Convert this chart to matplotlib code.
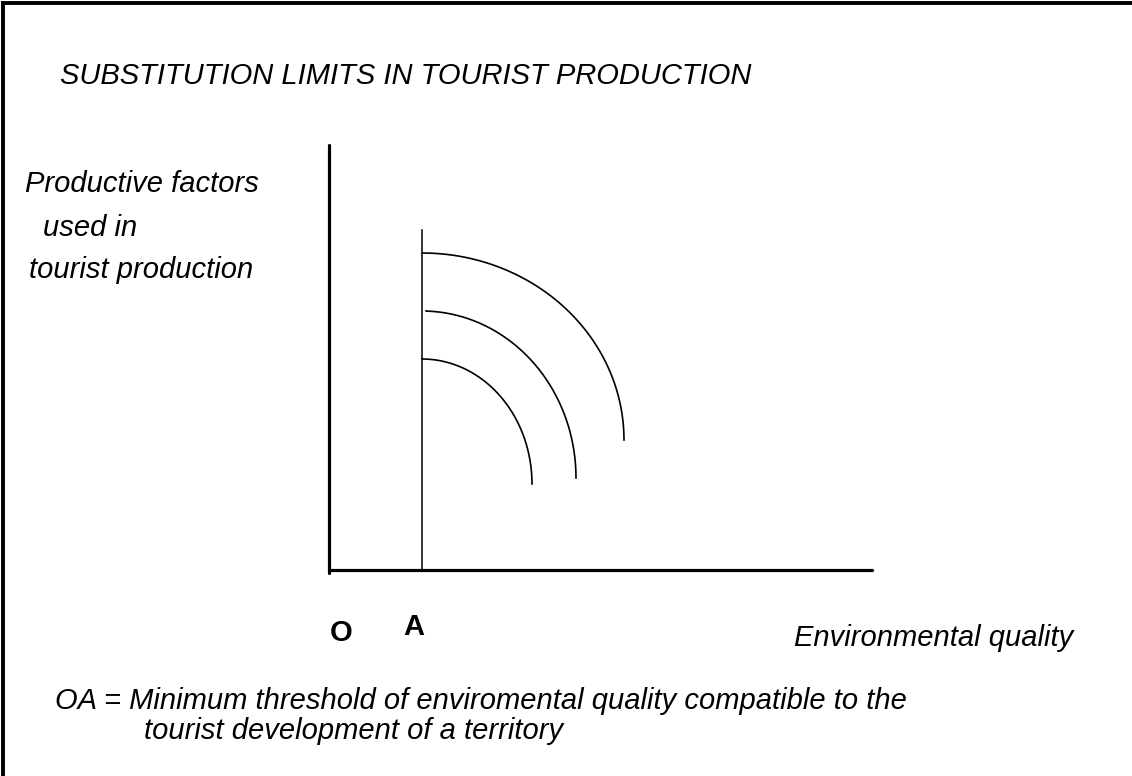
import numpy as np
import matplotlib
matplotlib.use("Agg")
import matplotlib.pyplot as plt
from matplotlib.lines import Line2D

plt.rcParams['font.family'] = ['Liberation Sans', 'DejaVu Sans']

# ---- data (diagram units, origin at O) ----
threshold_A = 93                 # OA: minimum environmental quality
curve_start = [93, 97, 93]       # x where each iso-production curve begins
curve_top = [211, 259, 317]      # factor level at the threshold
curve_right = [203, 247, 295]    # max environmental quality reached
curve_end = [86, 92, 130]        # lower end of each curve
x_axis_end = 543
y_axis_end = 425
a_line_top = 340

W, H = 1132, 776
fig = plt.figure(figsize=(W / 100, H / 100), dpi=100)
ax = fig.add_axes([0, 0, 1, 1])
ax.set_xlim(-329, W - 329)
ax.set_ylim(570 - H, 570)
ax.axis('off')

# axes
ax.plot([0, 0], [-3, y_axis_end], color='black', lw=2.3, solid_capstyle='round')
ax.plot([0, x_axis_end], [0, 0], color='black', lw=2.3, solid_capstyle='round')
# threshold line at A
ax.plot([threshold_A, threshold_A], [0, a_line_top], color='black', lw=1.1)

# iso-production curves (quarter ellipses)
t = np.linspace(0, np.pi / 2, 200)
for xs, top, right, end in zip(curve_start, curve_top, curve_right, curve_end):
    a = right - threshold_A
    b = top - end
    x = threshold_A + a * np.sin(t)
    y = end + b * np.cos(t)
    x = np.maximum(x, xs)
    ax.plot(x, y, color='black', lw=1.2)

# frame (left and top)
def px(x, y):
    return x / W, 1 - y / H

fig.add_artist(Line2D([3 / W, 3 / W], [0, 1 - 3 / H], transform=fig.transFigure,
                      color='black', lw=2.8))
fig.add_artist(Line2D([3 / W, 1], [1 - 3 / H, 1 - 3 / H], transform=fig.transFigure,
                      color='black', lw=2.8))

fs = 21
def txt(x, y, s, **kw):
    fig.text(*px(x, y), s, fontsize=fs, va='baseline', ha='left', **kw)

txt(60, 84, 'SUBSTITUTION LIMITS IN TOURIST PRODUCTION', style='italic')
txt(25, 192, 'Productive factors', style='italic')
txt(43, 236, 'used in', style='italic')
txt(29, 278, 'tourist production', style='italic')
txt(330, 641, 'O', fontweight='bold')
txt(403, 635, 'A', fontweight='bold')
txt(794, 646, 'Environmental quality', style='italic')
txt(55, 709, 'OA = Minimum threshold of enviromental quality compatible to the', style='italic')
txt(144, 739, 'tourist development of a territory', style='italic')

fig.savefig('out.png', dpi=100)
